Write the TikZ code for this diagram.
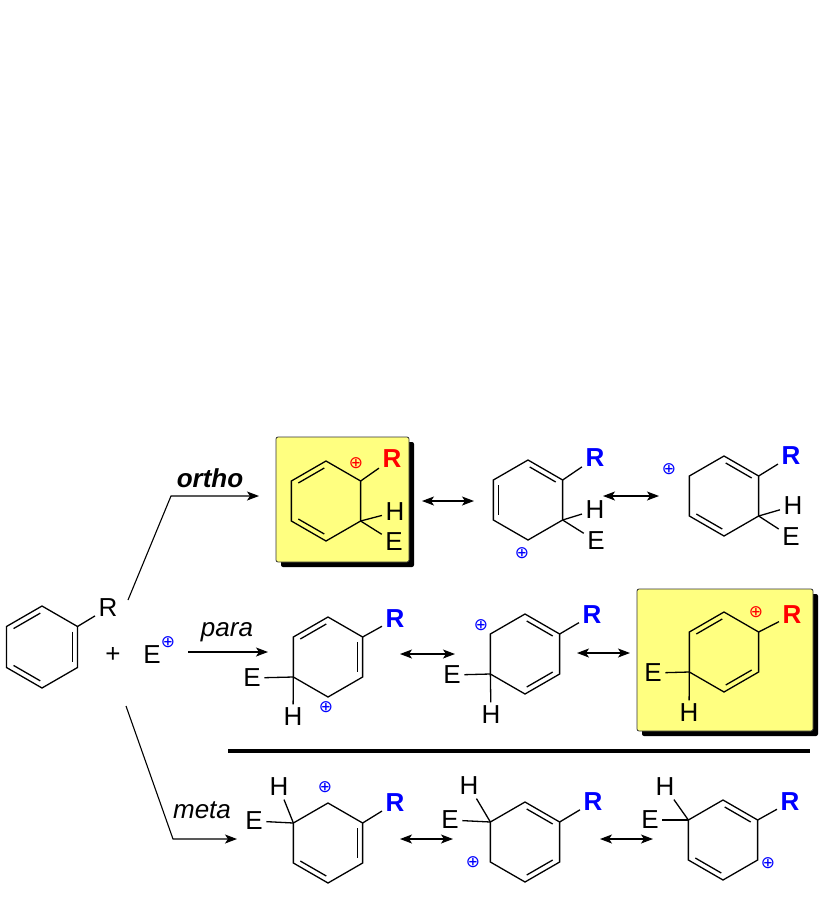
\documentclass[tikz,border=0pt]{standalone}
\usepackage{fontspec}
\setmainfont{Liberation Sans}
\newfontfamily\dejavu{DejaVu Sans}
\usetikzlibrary{arrows.meta,calc}
\definecolor{boxyellow}{HTML}{FFFF80}
\definecolor{chgblue}{HTML}{0000FF}
\definecolor{chgred}{HTML}{FF0000}

\begin{document}
\begin{tikzpicture}[x=1pt,y=-1pt,line width=1.3pt,
    lbl/.style={inner sep=3pt,font=\fontsize{26}{30}\selectfont},
    rblue/.style={lbl,text=chgblue,font=\fontsize{26}{30}\selectfont\bfseries},
    rred/.style={lbl,text=chgred,font=\fontsize{26}{30}\selectfont\bfseries},
    plusb/.style={inner sep=0pt,text=chgblue,font=\fontsize{17}{17}\selectfont\dejavu},
    plusr/.style={plusb,text=chgred},
    dbl/.style={shorten <=2pt,shorten >=2pt},
    hbox/.style={fill=boxyellow,draw=black!80,line width=0.8pt,rounded corners=2pt},
    rxn/.style={line width=1.1pt,-{Stealth[length=12pt,width=9pt,inset=3pt]}},
    reso/.style={line width=1.1pt,{Stealth[length=12pt,width=9pt,inset=3pt]}-{Stealth[length=12pt,width=9pt,inset=3pt]}}]
    \useasboundingbox (0,0) rectangle (831,914);

    \fill[black,rounded corners=2pt] (281,442) rectangle (414,567);
    \draw[hbox] (276,437) rectangle (409,562);
    \fill[black,rounded corners=2pt] (642,594) rectangle (818,736);
    \draw[hbox] (637,589) rectangle (813,731);

    \foreach \n/\cx/\cy/\rad in {bz/42/647/41, o1/326/501/40, o2/528/500/40, o3/724/496/40,
        p1/328/657/40, p2/525/654/40, p3/724/652/40, m1/328/843/40, m2/525/842/40, m3/723/840/40}{
        \coordinate (\n) at (\cx,\cy);
        \foreach \k in {0,...,5}
            \coordinate (\n-\k) at ($(\n)+({270-60*\k}:\rad)$);
        \draw (\n-0) -- (\n-1) -- (\n-2) -- (\n-3) -- (\n-4) -- (\n-5) -- cycle;
    }

    \foreach \n/\a/\b in {bz/0/1, bz/5/4, bz/2/3, o1/1/0, o1/2/3, o2/0/5, o2/1/2, o3/0/5, o3/2/3,
        p1/1/0, p1/5/4, p2/0/5, p2/4/3, p3/1/0, p3/4/3, m1/5/4, m1/2/3, m2/0/5, m2/4/3, m3/0/5, m3/2/3}
        \draw[dbl] ($(\n)!0.85!(\n-\a)$) -- ($(\n)!0.85!(\n-\b)$);

    \node[lbl] (bzR) at (108,608) {R};
    \draw (bz-5) -- (bzR);
    \node[lbl] (plus) at (113,655) {+};
    \node[lbl] (elec) at (152,655) {E};
    \node[plusb] (elecc) at (168,642) {⊕};

    \foreach \n/\x/\y/\s in {o1/392/459/rred, o2/595/458/rblue, o3/791/456/rblue,
        p1/395/619/rblue, p2/592/615/rblue, p3/792/615/rred,
        m1/395/803/rblue, m2/593/802/rblue, m3/790/802/rblue}{
        \node[\s] (\n R) at (\x,\y) {R};
        \draw (\n-5) -- (\n R);
    }

    \foreach \n/\hx/\hy/\ex/\ey/\v in {o1/395/512/394/542/4, o2/595/510/596/541/4, o3/793/506/791/537/4,
        p1/293/717/252/678/2, p2/491/715/452/675/2, p3/689/713/653/673/2,
        m1/279/787/254/821/1, m2/469/786/450/820/1, m3/665/787/650/820/1}{
        \node[lbl] (\n H) at (\hx,\hy) {H};
        \node[lbl] (\n E) at (\ex,\ey) {E};
        \draw (\n-\v) -- (\n H);
        \draw (\n-\v) -- (\n E);
    }

    \foreach \n/\x/\y/\s in {o1/356/463/plusr, o2/522/553/plusb, o3/669/469/plusb,
        p1/326/707/plusb, p2/481/625/plusb, p3/756/612/plusr,
        m1/325/787/plusb, m2/473/862/plusb, m3/768/863/plusb}
        \node[\s] (\n c) at (\x,\y) {⊕};

    \coordinate (forko) at (128,600);
    \coordinate (kneeo) at (171,496);
    \coordinate (tipo) at (259,496);
    \draw[rxn] (forko) -- (kneeo) -- (tipo);
    \node[lbl,font=\fontsize{26}{30}\selectfont\bfseries\itshape] (ortho) at (210,478) {ortho};

    \coordinate (tailp) at (188,652);
    \coordinate (tipp) at (268,652);
    \draw[rxn] (tailp) -- (tipp);
    \node[lbl,font=\fontsize{26}{30}\selectfont\itshape] (para) at (227,632) {para};

    \coordinate (forkm) at (126,706);
    \coordinate (kneem) at (173,839);
    \coordinate (tipm) at (237,839);
    \draw[rxn] (forkm) -- (kneem) -- (tipm);
    \node[lbl,font=\fontsize{26}{30}\selectfont\itshape] (meta) at (202,810) {meta};

    \foreach \a/\ax/\bx/\y in {ro1/422/474/501, ro2/603/659/496, rp1/400/455/654,
        rp2/577/630/653, rm1/400/453/839, rm2/600/653/839}{
        \coordinate (\a l) at (\ax,\y);
        \coordinate (\a r) at (\bx,\y);
        \draw[reso] (\a l) -- (\a r);
    }

    \coordinate (sepl) at (228,751);
    \coordinate (sepr) at (810,751);
    \draw[line width=4pt] (sepl) -- (sepr);
\end{tikzpicture}
\end{document}
